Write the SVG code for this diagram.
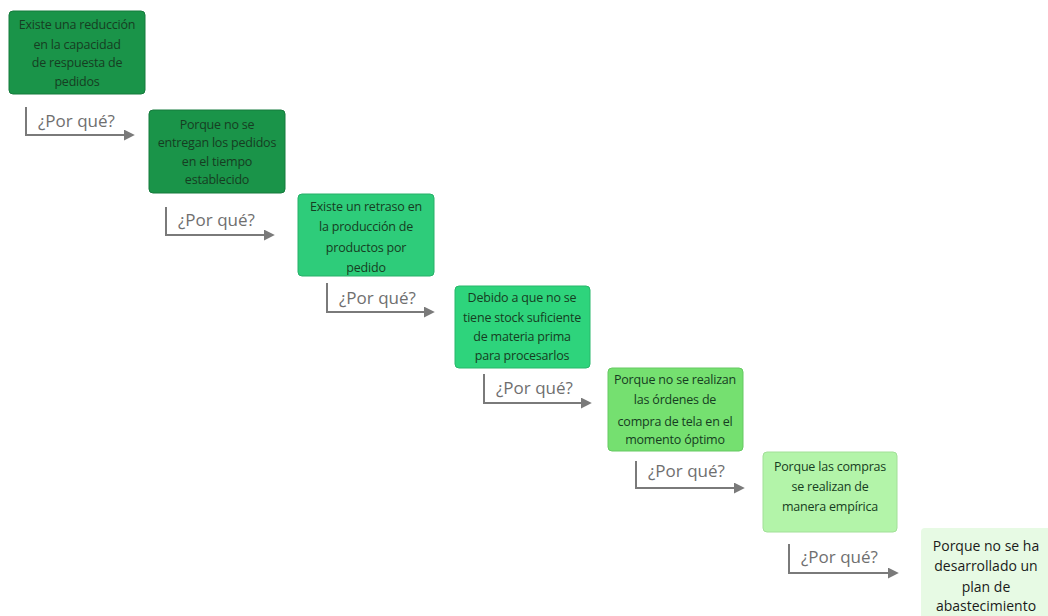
<svg xmlns="http://www.w3.org/2000/svg" width="1048" height="616" viewBox="0 0 1048 616">
  <style>
    .box { stroke-width: 1; }
    .t { font-family: "Open Sans", "Liberation Sans", sans-serif; font-size: 12.5px; fill: #163d22; text-anchor: middle; letter-spacing: -0.2px; }
    .t7 { font-family: "Open Sans", "Liberation Sans", sans-serif; font-size: 14px; fill: #1a1a1a; text-anchor: middle; }
    .lbl { font-family: "Open Sans", "Liberation Sans", sans-serif; font-size: 17px; fill: #6f6f6f; }
    .conn { fill: none; stroke: #7a7a7a; stroke-width: 2; }
  </style>
  <defs>
    <marker id="ah" viewBox="0 0 10 10" refX="2" refY="5" markerWidth="5.5" markerHeight="5.5" orient="auto" markerUnits="strokeWidth">
      <path d="M0,0 L10,5 L0,10 Z" fill="#7a7a7a"/>
    </marker>
  </defs>
  <rect width="1048" height="616" fill="#ffffff"/>

  <g id="n1">
    <rect class="box" x="9" y="11" width="136" height="83" rx="4" fill="#1a9449" stroke="#157a3c"/>
    <text class="t" x="77" y="29">Existe una reducción</text>
    <text class="t" x="77" y="49">en la capacidad</text>
    <text class="t" x="77" y="67">de respuesta de</text>
    <text class="t" x="77" y="86">pedidos</text>
  </g>
  <g id="n2">
    <rect class="box" x="149" y="110" width="136" height="83" rx="4" fill="#1a9449" stroke="#157a3c"/>
    <text class="t" x="217" y="129">Porque no se</text>
    <text class="t" x="217" y="147">entregan los pedidos</text>
    <text class="t" x="217" y="166">en el tiempo</text>
    <text class="t" x="217" y="184">establecido</text>
  </g>
  <g id="n3">
    <rect class="box" x="298" y="194" width="136" height="82" rx="4" fill="#2ecc7a" stroke="#27b069"/>
    <text class="t" x="366" y="211">Existe un retraso en</text>
    <text class="t" x="366" y="231">la producción de</text>
    <text class="t" x="366" y="252">productos por</text>
    <text class="t" x="366" y="272">pedido</text>
  </g>
  <g id="n4">
    <rect class="box" x="455" y="286" width="135" height="82" rx="4" fill="#2ed47c" stroke="#27b86a"/>
    <text class="t" x="522" y="302">Debido a que no se</text>
    <text class="t" x="522" y="322">tiene stock suficiente</text>
    <text class="t" x="522" y="341">de materia prima</text>
    <text class="t" x="522" y="360">para procesarlos</text>
  </g>
  <g id="n5">
    <rect class="box" x="608" y="368" width="135" height="83" rx="4" fill="#75e070" stroke="#66c962"/>
    <text class="t" x="675" y="384">Porque no se realizan</text>
    <text class="t" x="675" y="404">las órdenes de</text>
    <text class="t" x="675" y="426">compra de tela en el</text>
    <text class="t" x="675" y="444">momento óptimo</text>
  </g>
  <g id="n6">
    <rect class="box" x="763" y="452" width="134" height="80" rx="4" fill="#b3f4a9" stroke="#a2e098"/>
    <text class="t" x="830" y="471">Porque las compras</text>
    <text class="t" x="830" y="491">se realizan de</text>
    <text class="t" x="830" y="511">manera empírica</text>
  </g>
  <g id="n7">
    <rect x="921" y="528" width="130" height="92" rx="4" fill="#e7fae4"/>
    <text class="t7" x="986" y="551">Porque no se ha</text>
    <text class="t7" x="986" y="571">desarrollado un</text>
    <text class="t7" x="986" y="592">plan de</text>
    <text class="t7" x="986" y="611">abastecimiento</text>
  </g>

  <g id="connectors">
    <path class="conn" d="M26,107 V135 H126" marker-end="url(#ah)"/>
    <text class="lbl" x="38" y="127">¿Por qué?</text>
    <path class="conn" d="M166,207 V235 H266" marker-end="url(#ah)"/>
    <text class="lbl" x="178" y="226">¿Por qué?</text>
    <path class="conn" d="M327,283 V312 H426" marker-end="url(#ah)"/>
    <text class="lbl" x="339" y="304">¿Por qué?</text>
    <path class="conn" d="M484,374 V403 H583" marker-end="url(#ah)"/>
    <text class="lbl" x="496" y="394">¿Por qué?</text>
    <path class="conn" d="M636,461 V488 H736" marker-end="url(#ah)"/>
    <text class="lbl" x="648" y="477">¿Por qué?</text>
    <path class="conn" d="M789,544 V573 H890" marker-end="url(#ah)"/>
    <text class="lbl" x="801" y="563">¿Por qué?</text>
  </g>
</svg>
